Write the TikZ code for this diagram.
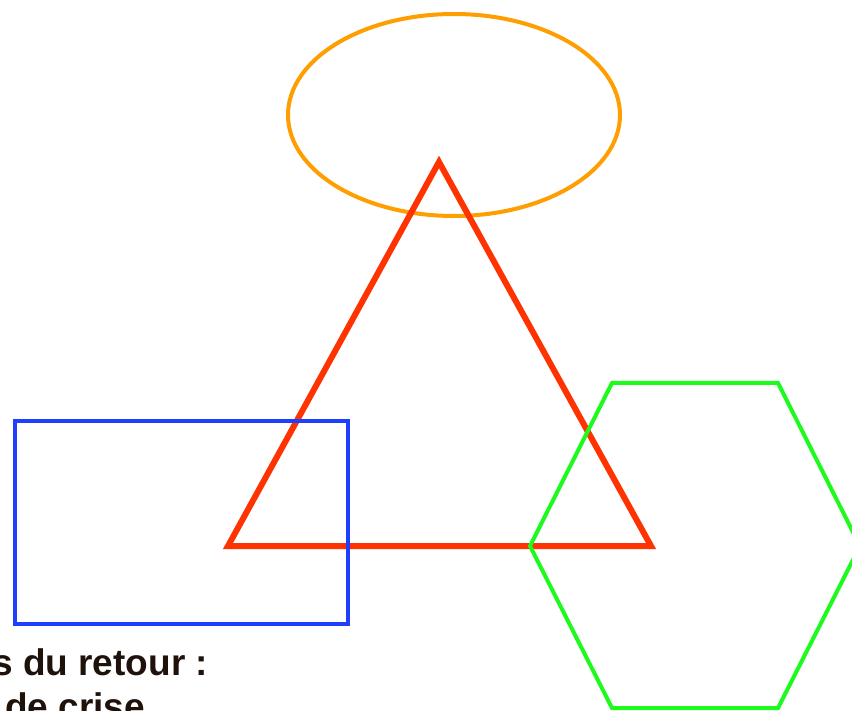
\documentclass[tikz,border=0pt]{standalone}
\usepackage{fontspec}
\setmainfont{Liberation Sans}

\definecolor{shapeorange}{RGB}{255,158,0}
\definecolor{shapered}{RGB}{255,51,0}
\definecolor{shapeblue}{RGB}{31,63,255}
\definecolor{shapegreen}{RGB}{30,250,30}
\definecolor{textbrown}{RGB}{30,18,10}

\begin{document}
\begin{tikzpicture}[
  x=1pt, y=-1pt,
  outline/.style={line width=4pt, line join=miter},
  caption/.style={anchor=base west, inner sep=0pt, text=textbrown,
    font=\fontsize{37}{42}\selectfont\bfseries}
]
\useasboundingbox (0,0) rectangle (852,711);
\clip (0,0) rectangle (852,711);

% shapes
\draw[outline, shapeorange] (454,115) ellipse [x radius=166, y radius=101];
\draw[outline, shapered, line width=6pt] (439,162) -- (651,546) -- (228,546) -- cycle;
\draw[outline, shapeblue] (15,421) rectangle (348,624);
\draw[outline, shapegreen] (530,546) -- (612,383) -- (778,383) -- (860,546)
  -- (778,708) -- (612,708) -- cycle;

% text
\node[caption] (retour) at (-8,675) {s du retour :};
\node[caption] (crise) at (5,719) {de crise};

\end{tikzpicture}
\end{document}
